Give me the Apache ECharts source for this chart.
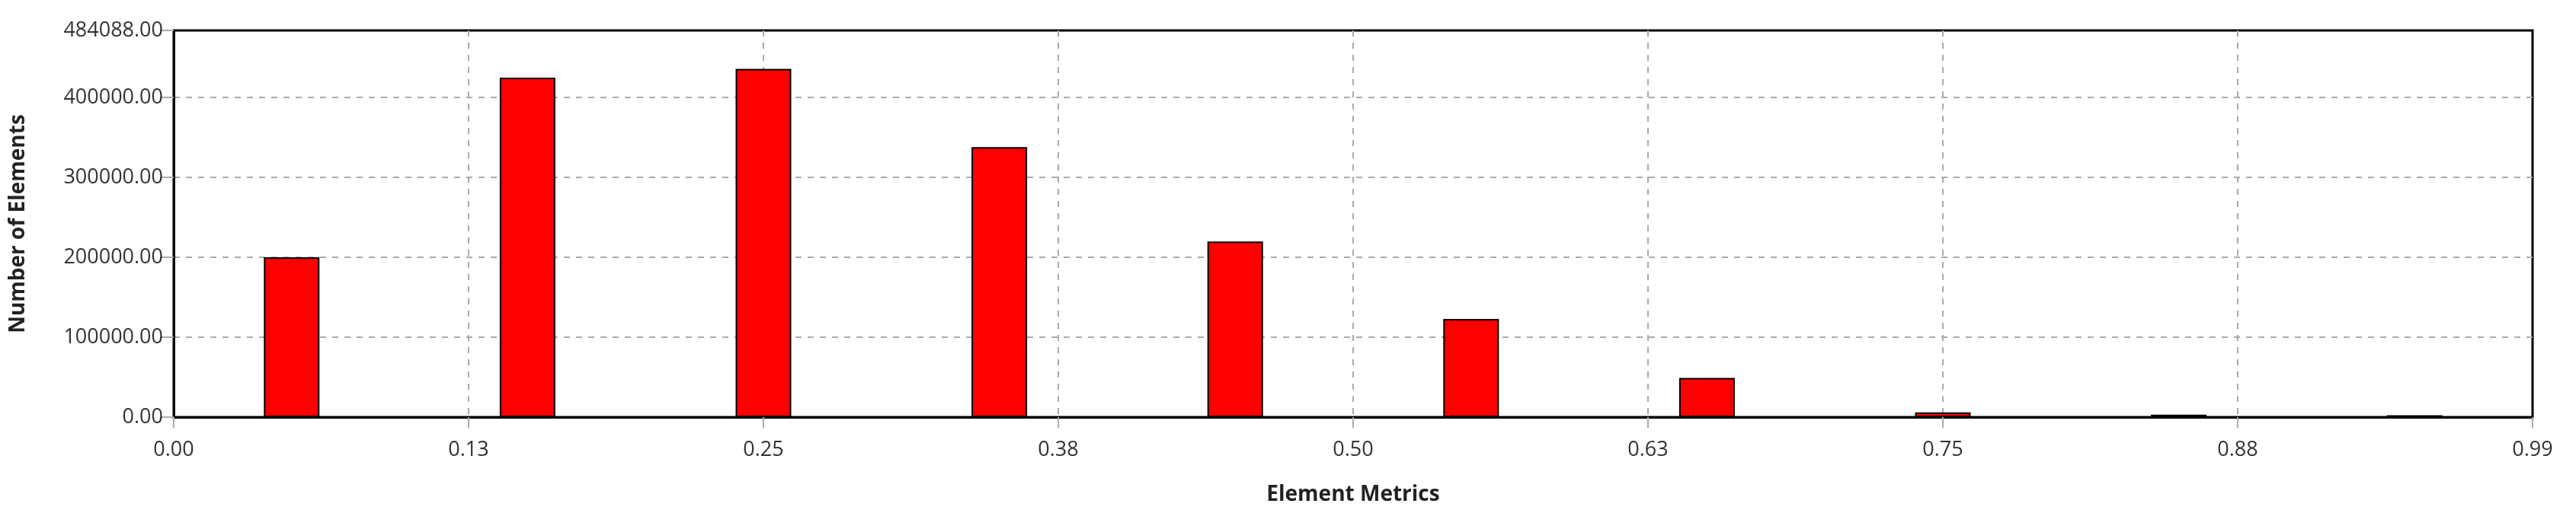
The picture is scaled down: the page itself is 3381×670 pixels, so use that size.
<!DOCTYPE html>
<html><head><meta charset="utf-8">
<script src="https://cdn.jsdelivr.net/npm/echarts@6/dist/echarts.min.js"></script>
<style>html,body{margin:0;padding:0;background:#fff}#c{width:3381px;height:670px}</style>
</head><body><div id="c"></div>
<script>
const binCenters = [0.05,0.15,0.25,0.35,0.45,0.55,0.65,0.75,0.85,0.95];
const counts = [200000,425000,436000,338000,220000,123000,49000,6000,3000,2500];
const xTickLabels = ['0.00','0.13','0.25','0.38','0.50','0.63','0.75','0.88','0.99'];
const yMax = 484088;
const font = '"Open Sans","Noto Sans",sans-serif';
const chart = echarts.init(document.getElementById('c'));
chart.setOption({
  animation:false,
  grid:{left:228,right:57,top:40,bottom:122,show:true,borderColor:'#000',borderWidth:3},
  xAxis:{type:'value',min:0,max:1,interval:0.125,
    name:'Element Metrics',nameLocation:'middle',nameGap:88,
    nameTextStyle:{fontFamily:font,fontWeight:'bold',fontSize:28,color:'#222'},
    axisLine:{show:true,lineStyle:{color:'#000',width:3}},
    axisTick:{show:true,length:14,inside:false,lineStyle:{color:'#aaa',width:2}},
    axisLabel:{fontFamily:font,fontSize:27,color:'#333',margin:30,
      formatter:(v)=>xTickLabels[Math.round(v/0.125)]},
    splitLine:{show:true,showMinLine:false,showMaxLine:false,lineStyle:{type:[8,8],color:'#aaa',width:2}}},
  yAxis:{type:'value',min:0,max:yMax,interval:100000,
    name:'Number of Elements',nameLocation:'middle',nameGap:190,
    nameTextStyle:{fontFamily:font,fontWeight:'bold',fontSize:28,color:'#222'},
    axisLine:{show:true,lineStyle:{color:'#000',width:3}},
    axisTick:{show:true,length:18,lineStyle:{color:'#aaa',width:2}},
    axisLabel:{fontFamily:font,fontSize:27,color:'#333',margin:14,
      formatter:(v)=>v.toFixed(2)},
    splitLine:{show:true,showMinLine:false,showMaxLine:false,lineStyle:{type:[8,8],color:'#aaa',width:2}}},
  series:[{type:'bar',barWidth:73,
    data:binCenters.map((x,i)=>[x,counts[i]]),
    itemStyle:{color:'#ff0000',borderColor:'#000',borderWidth:2}}]
});
</script></body></html>
